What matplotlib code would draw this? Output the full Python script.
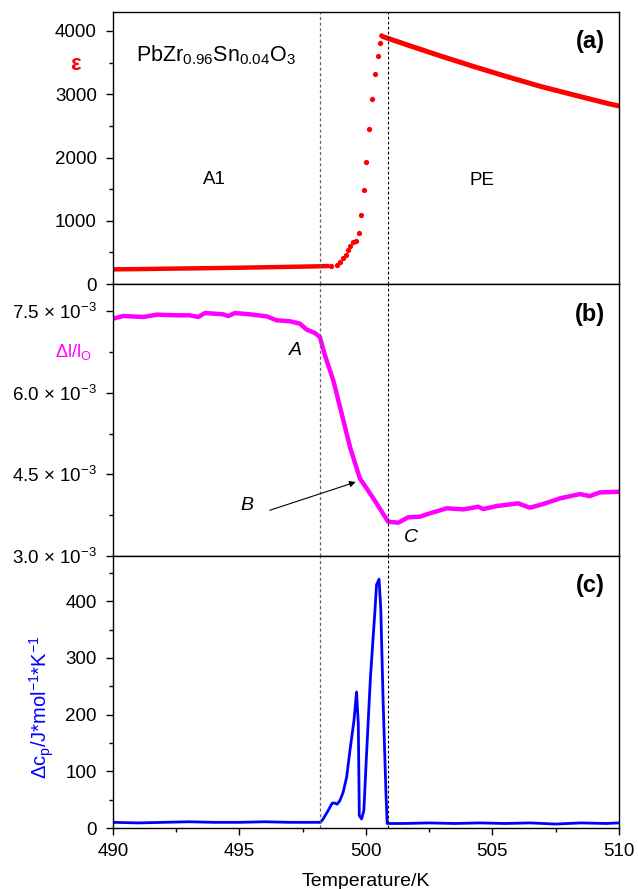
import numpy as np
import matplotlib
matplotlib.use("Agg")
import matplotlib.pyplot as plt
from matplotlib.ticker import MultipleLocator, FixedLocator, FixedFormatter

plt.rcParams['font.family'] = ['Liberation Sans', 'DejaVu Sans']
plt.rcParams['mathtext.fontset'] = 'custom'
plt.rcParams['mathtext.rm'] = 'Liberation Sans'
plt.rcParams['mathtext.it'] = 'Liberation Sans:italic'
plt.rcParams['mathtext.bf'] = 'Liberation Sans:bold'

# (a) permittivity: dense parts (A1 baseline, PE branch) and sparse transition dots
eps_base_T = [490.0, 491.0, 492.0, 493.0, 494.0, 495.0, 496.0, 497.0, 498.0, 498.5]
eps_base_v = [232, 236, 242, 247, 252, 258, 265, 272, 279, 284]
eps_tr_T = [498.64, 498.84, 498.97, 499.10, 499.20, 499.30, 499.39, 499.50, 499.60,
            499.71, 499.80, 499.91, 500.01, 500.13, 500.24, 500.36, 500.46, 500.55]
eps_tr_v = [285, 305, 350, 405, 465, 540, 600, 660, 685,
            805, 1095, 1480, 1935, 2450, 2925, 3315, 3605, 3815]
eps_pe_T = [500.62, 500.68, 501.67, 502.99, 504.31, 505.63, 506.94, 508.26, 509.58, 510.0]
eps_pe_v = [3925, 3910, 3775, 3600, 3432, 3272, 3120, 2985, 2852, 2815]

# (b) dilatation (x 1e-3)
dl_T = [490.01, 490.41, 491.20, 491.73, 492.52, 493.04, 493.37, 493.64, 494.36,
        494.56, 494.82, 495.41, 496.08, 496.47, 497.00, 497.39, 497.66, 497.98,
        498.18, 498.38, 498.71, 499.04, 499.37, 499.76, 500.03, 500.42, 500.88,
        501.28, 501.47, 501.67, 502.13, 502.53, 503.19, 503.85, 504.44, 504.64,
        505.17, 506.02, 506.48, 507.01, 507.67, 508.46, 508.85, 509.25, 510.0]
dl_v = [7.364, 7.412, 7.394, 7.437, 7.425, 7.425, 7.394, 7.467, 7.443,
        7.412, 7.467, 7.443, 7.406, 7.333, 7.315, 7.272, 7.162, 7.100,
        7.027, 6.690, 6.230, 5.620, 5.007, 4.427, 4.243, 3.968, 3.630,
        3.612, 3.661, 3.710, 3.722, 3.784, 3.876, 3.857, 3.905, 3.863,
        3.918, 3.968, 3.887, 3.955, 4.059, 4.138, 4.101, 4.169, 4.181]

# (c) excess heat capacity
cp_T = [490.0, 491.0, 492.0, 493.0, 494.0, 495.0, 496.0, 497.0, 498.2, 498.31,
        498.51, 498.67, 498.77, 498.86, 498.97, 499.10, 499.24, 499.37, 499.53,
        499.63, 499.70, 499.74, 499.83, 499.92, 500.02, 500.18, 500.36, 500.42,
        500.52, 500.59, 500.68, 500.79, 500.84, 501.5, 502.5, 503.5, 504.5, 505.5,
        506.5, 507.5, 508.5, 509.5, 510.0]
cp_v = [10, 9, 10, 11, 10, 10, 11, 10, 10, 16,
        31, 44, 44, 42, 48, 63, 90, 137, 190,
        240, 184, 22, 16, 31, 125, 266, 385, 429,
        439, 385, 225, 66, 8, 8, 9, 8, 9, 8,
        9, 7, 9, 8, 9]

T_LINES = [498.2, 500.88]

fig = plt.figure(figsize=(6.38, 8.89), dpi=100)
L, W = 0.177, 0.793
ax_a = fig.add_axes([L, 0.6805, W, 0.306])
ax_b = fig.add_axes([L, 0.3746, W, 0.3059])
ax_c = fig.add_axes([L, 0.0686, W, 0.306])

red, mag, blue = '#ff0000', '#ff00ff', '#0000ff'

ax_a.plot(eps_base_T, eps_base_v, color=red, lw=3.2, solid_capstyle='round')
ax_a.plot(eps_tr_T, eps_tr_v, 'o', color=red, ms=3.8, mew=0)
ax_a.plot(eps_pe_T, eps_pe_v, color=red, lw=3.6, solid_capstyle='round')
ax_a.set_ylim(0, 4300)
ax_a.yaxis.set_major_locator(MultipleLocator(1000))
ax_a.yaxis.set_minor_locator(MultipleLocator(500))

ax_b.plot(np.array(dl_T), np.array(dl_v) * 1e-3, color=mag, lw=3.2)
ax_b.set_ylim(3.0e-3, 8.0e-3)
b_ticks = [3.0e-3, 4.5e-3, 6.0e-3, 7.5e-3]
ax_b.yaxis.set_major_locator(FixedLocator(b_ticks))
ax_b.yaxis.set_major_formatter(FixedFormatter(
    [f"{t*1e3:.1f} × 10$^{{-3}}$" for t in b_ticks]))
ax_b.yaxis.set_minor_locator(MultipleLocator(0.75e-3))

ax_c.plot(cp_T, cp_v, color=blue, lw=2.0)
ax_c.set_ylim(0, 480)
ax_c.yaxis.set_major_locator(MultipleLocator(100))
ax_c.yaxis.set_minor_locator(MultipleLocator(50))

for ax in (ax_a, ax_b, ax_c):
    ax.set_xlim(490, 510)
    ax.axvline(T_LINES[0], color='#666666', ls=(0, (2.5, 2)), lw=0.9)
    ax.axvline(T_LINES[1], color='black', ls=(0, (2.5, 2)), lw=0.8)
    ax.tick_params(axis='y', which='major', direction='out', length=5, width=1,
                   labelsize=13.5, pad=6.5, right=False)
    ax.tick_params(axis='y', which='minor', direction='out', length=3, width=1)
    for s in ax.spines.values():
        s.set_linewidth(1.0)

for ax in (ax_a, ax_b):
    ax.tick_params(axis='x', which='both', bottom=False, labelbottom=False)

ax_c.xaxis.set_major_locator(MultipleLocator(5))
ax_c.xaxis.set_minor_locator(MultipleLocator(2.5))
ax_c.tick_params(axis='x', which='major', direction='out', length=5, width=1,
                 labelsize=13.5, pad=6, top=False)
ax_c.tick_params(axis='x', which='minor', direction='out', length=3, width=1, top=False)
ax_c.set_xlabel("Temperature/K", fontsize=14, labelpad=9)

# panel labels
for ax, lab in ((ax_a, "(a)"), (ax_b, "(b)"), (ax_c, "(c)")):
    ax.text(0.972, 0.932, lab, transform=ax.transAxes, ha='right', va='top',
            fontsize=17, fontweight='bold')

ax_a.text(0.045, 0.84, r"PbZr$_{0.96}$Sn$_{0.04}$O$_3$", transform=ax_a.transAxes,
          fontsize=15.5, ha='left', va='center')
ax_a.text(494.0, 1650, "A1", fontsize=13.5, ha='center', va='center')
ax_a.text(504.6, 1630, "PE", fontsize=13.5, ha='center', va='center')

# y labels
fig.text(75 / 638, 1 - 65 / 889, "ε", color=red, fontsize=16, fontweight='bold',
         ha='center', va='center')
fig.text(73 / 638, 1 - 352 / 889, r"Δl/l$_\mathrm{O}$", color=mag, fontsize=13,
         ha='center', va='center')
fig.text(42 / 638, 1 - 707 / 889, r"Δc$_\mathrm{p}$/J*mol$^{-1}$*K$^{-1}$", color=blue,
         fontsize=14.5, rotation=90, ha='center', va='center')

# annotations in (b)
ax_b.text(497.2, 6.78e-3, "A", fontsize=14, style='italic', ha='center', va='center')
ax_b.text(495.3, 3.93e-3, "B", fontsize=14, style='italic', ha='center', va='center')
ax_b.text(501.8, 3.34e-3, "C", fontsize=14, style='italic', ha='center', va='center')
ax_b.annotate("", xy=(499.6, 4.36e-3), xytext=(496.2, 3.84e-3),
              arrowprops=dict(arrowstyle='-|>', color='black', lw=0.8,
                              mutation_scale=9, shrinkA=0, shrinkB=0))

fig.savefig("out.png", dpi=100)
